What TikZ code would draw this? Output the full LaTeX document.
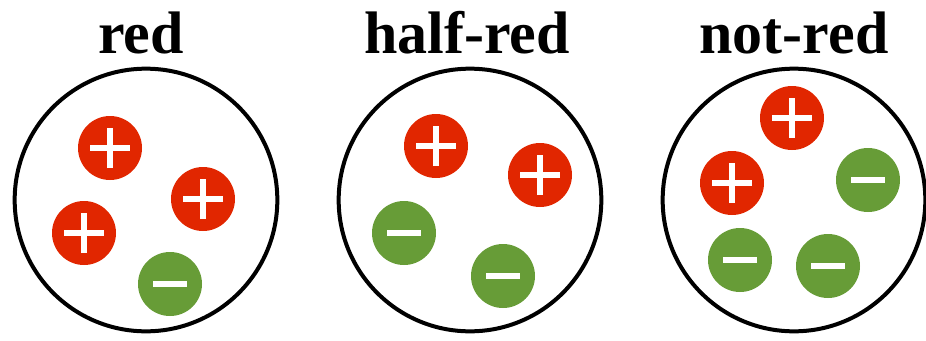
\documentclass[tikz,border=0pt]{standalone}
\usepackage{fontspec}
\setmainfont{Liberation Serif}
\definecolor{plusred}{HTML}{E12600}
\definecolor{minusgreen}{HTML}{679C37}
\tikzset{
  every picture/.style={line join=round},
  % a charged particle with its sign drawn inside
  plusball/.style={circle, fill=plusred, minimum size=48pt, inner sep=0pt,
    path picture={
      \draw[white, line width=5pt]
        ([xshift=-15pt]path picture bounding box.center) -- ++(30pt,0)
        ([yshift=-15pt]path picture bounding box.center) -- ++(0,30pt);
    }},
  minusball/.style={circle, fill=minusgreen, minimum size=48pt, inner sep=0pt,
    path picture={
      \draw[white, line width=5pt]
        ([xshift=-12.5pt]path picture bounding box.center) -- ++(25pt,0);
    }},
  bag/.style={circle, draw, line width=3pt, minimum size=197pt, inner sep=0pt},
  title/.style={anchor=base, font=\bfseries\fontsize{45}{50}\selectfont},
}
\begin{document}
\begin{tikzpicture}[x=0.75pt, y=-0.75pt]
    \useasboundingbox (0,0) rectangle (926,340);

    % Containers
    \node[bag] (bagA) at (146,200) {};
    \node[bag] (bagB) at (470,200) {};
    \node[bag] (bagC) at (794,200) {};

    % Titles
    \node[title] (titleA) at (141,53) {red};
    \node[title] (titleB) at (467,53) {half-red};
    \node[title] (titleC) at (794,53) {not-red};

    % red
    \node[plusball] (a1) at (110,148) {};
    \node[plusball] (a2) at (203,199) {};
    \node[plusball] (a3) at (84,233) {};
    \node[minusball] (a4) at (170,284) {};

    % half-red
    \node[plusball] (b1) at (436,146) {};
    \node[plusball] (b2) at (540,175) {};
    \node[minusball] (b3) at (404,233) {};
    \node[minusball] (b4) at (503,276) {};

    % not-red
    \node[plusball] (c1) at (792,118) {};
    \node[plusball] (c2) at (732,183) {};
    \node[minusball] (c3) at (868,180) {};
    \node[minusball] (c4) at (740,260) {};
    \node[minusball] (c5) at (828,266) {};
\end{tikzpicture}
\end{document}
